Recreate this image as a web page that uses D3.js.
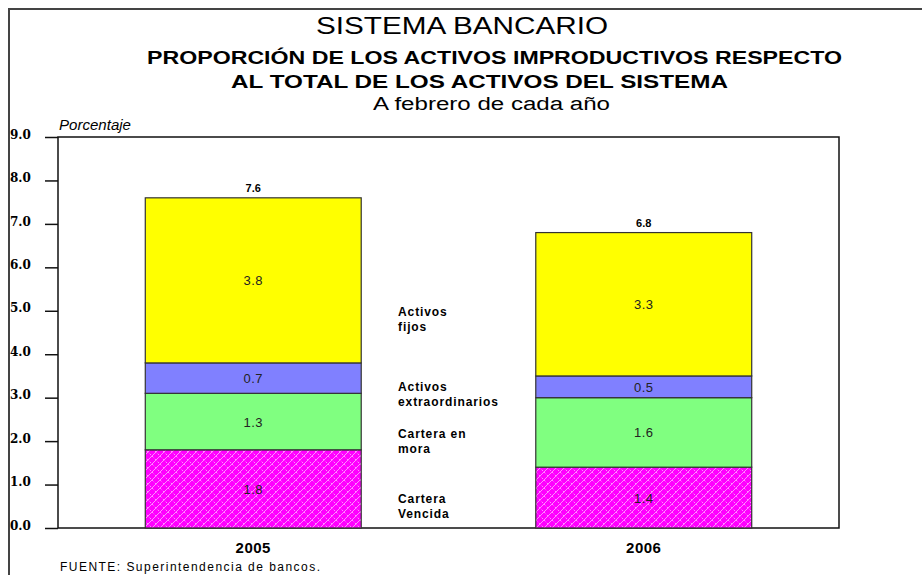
<!DOCTYPE html>
<html>
<head>
<meta charset="utf-8">
<script src="https://cdn.jsdelivr.net/npm/d3@7"></script>
<style>
  html, body { margin: 0; padding: 0; background: #fff; }
  svg { display: block; font-family: Arial, "Liberation Sans", sans-serif; }
</style>
</head>
<body>
<svg id="chart" width="922" height="575"></svg>
<script>
// Years shown on the x axis
const years = ["2005", "2006"];
// Stacked components, bottom to top (percent of total assets)
const carteraVencida = [1.8, 1.4];
const carteraMora = [1.3, 1.6];
const activosExtra = [0.7, 0.5];
const activosFijos = [3.8, 3.3];
// Totals printed above each bar
const totals = [7.6, 6.8];
// Y axis ticks
const yTicks = [0, 1, 2, 3, 4, 5, 6, 7, 8, 9];

const series = [
  { key: "Cartera Vencida", values: carteraVencida, fill: "url(#hatch)", label: ["Cartera", "Vencida"] },
  { key: "Cartera en mora", values: carteraMora, fill: "#80ff80", label: ["Cartera en", "mora"] },
  { key: "Activos extraordinarios", values: activosExtra, fill: "#8080ff", label: ["Activos", "extraordinarios"] },
  { key: "Activos fijos", values: activosFijos, fill: "#ffff00", label: ["Activos", "fijos"] }
];

const svg = d3.select("#chart");
const W = 922, H = 575;
const plot = { left: 58, right: 839, top: 137, bottom: 528 };

// Crosshatch fill for the bottom segment
const defs = svg.append("defs");
const pat = defs.append("pattern")
  .attr("id", "hatch").attr("patternUnits", "userSpaceOnUse")
  .attr("width", 8).attr("height", 8);
pat.append("rect").attr("width", 8).attr("height", 8).attr("fill", "#ff00ff");
pat.append("path").attr("d", "M0,8 L8,0 M-2,2 L2,-2 M6,10 L10,6")
  .attr("stroke", "#ff8cff").attr("stroke-width", 1);
pat.append("path").attr("d", "M0,0 L8,8 M-2,6 L2,10 M6,-2 L10,2")
  .attr("stroke", "#ff8cff").attr("stroke-width", 1).attr("stroke-dasharray", "2,2");

// Outer frame (left and top edges)
svg.append("path")
  .attr("d", `M9,${H} L9,9 L${W},9`)
  .attr("fill", "none").attr("stroke", "#444").attr("stroke-width", 2);

// Titles: [text, x-start, width, baseline, size, weight]
const titles = [
  ["SISTEMA BANCARIO", 316, 292, 34, 24, "normal"],
  ["PROPORCIÓN DE LOS ACTIVOS IMPRODUCTIVOS RESPECTO", 147, 695, 64, 18, "bold"],
  ["AL TOTAL DE LOS ACTIVOS DEL SISTEMA", 231, 497, 88, 18, "bold"],
  ["A febrero de cada año", 373, 237, 110, 18, "normal"]
];
titles.forEach(([txt, x0, w, yb, fs, fw]) => {
  svg.append("text").attr("x", x0).attr("y", yb)
    .attr("font-size", fs).attr("font-weight", fw).attr("fill", "#000")
    .attr("textLength", w).attr("lengthAdjust", "spacingAndGlyphs")
    .text(txt);
});

// Scales
const x = d3.scaleBand().domain(years).range([plot.left, plot.right]).paddingInner(0.447).paddingOuter(0.2235);
const y = d3.scaleLinear().domain([0, 9]).range([plot.bottom, plot.top]);

// Plot frame
svg.append("rect")
  .attr("x", plot.left).attr("y", plot.top)
  .attr("width", plot.right - plot.left).attr("height", plot.bottom - plot.top)
  .attr("fill", "none").attr("stroke", "#111").attr("stroke-width", 1.5);

// Y axis ticks and labels
const yAxis = svg.append("g").attr("transform", `translate(${plot.left},0)`)
  .call(d3.axisLeft(y).tickValues(yTicks).tickSize(13).tickFormat(d3.format(".1f")));
yAxis.select(".domain").remove();
yAxis.selectAll(".tick line").attr("stroke", "#111").attr("stroke-width", 1.5);
yAxis.selectAll(".tick text")
  .attr("x", -48).attr("text-anchor", "start").attr("dy", "0.1em")
  .attr("font-family", "'DejaVu Serif', 'Liberation Serif', serif")
  .attr("font-size", 12).attr("font-weight", "bold").attr("fill", "#000");

svg.append("text").attr("x", 59).attr("y", 130)
  .attr("font-size", 14).attr("font-style", "italic").attr("fill", "#000")
  .attr("textLength", 72).attr("lengthAdjust", "spacingAndGlyphs").text("Porcentaje");

// Stack the series
const rows = years.map((yr, i) => {
  const r = { year: yr };
  series.forEach(s => { r[s.key] = s.values[i]; });
  return r;
});
const stacked = d3.stack().keys(series.map(s => s.key))(rows);

stacked.forEach((layer, li) => {
  const s = series[li];
  const g = svg.append("g");
  g.selectAll("rect").data(layer).join("rect")
    .attr("x", d => x(d.data.year))
    .attr("y", d => y(d[1]))
    .attr("width", x.bandwidth())
    .attr("height", d => y(d[0]) - y(d[1]))
    .attr("fill", s.fill)
    .attr("stroke", "#333").attr("stroke-width", 1.2);
  g.selectAll("text").data(layer).join("text")
    .attr("x", d => x(d.data.year) + x.bandwidth() / 2)
    .attr("y", d => (y(d[0]) + y(d[1])) / 2 + 5)
    .attr("text-anchor", "middle").attr("font-size", 13).attr("fill", "#222")
    .attr("letter-spacing", 0.5)
    .text(d => d3.format(".1f")(d[1] - d[0]));
});

// Totals above bars
svg.append("g").selectAll("text").data(years).join("text")
  .attr("x", d => x(d) + x.bandwidth() / 2)
  .attr("y", (d, i) => y(totals[i]) - 6)
  .attr("text-anchor", "middle").attr("font-size", 11).attr("font-weight", "bold")
  .attr("fill", "#000").text((d, i) => d3.format(".1f")(totals[i]));

// Series labels between the bars
const labelY = [503, 438, 391, 316];
series.forEach((s, i) => {
  const t = svg.append("text").attr("x", 398).attr("y", labelY[i])
    .attr("font-size", 12).attr("font-weight", "bold").attr("fill", "#000")
    .attr("letter-spacing", 0.9);
  s.label.forEach((line, k) => {
    t.append("tspan").attr("x", 398).attr("dy", k === 0 ? 0 : 15).text(line);
  });
});

// X axis labels
const xAxis = svg.append("g").attr("transform", `translate(0,${plot.bottom})`)
  .call(d3.axisBottom(x).tickSize(0).tickPadding(14));
xAxis.select(".domain").remove();
xAxis.selectAll(".tick text").attr("font-size", 15).attr("font-weight", "bold").attr("fill", "#000")
  .attr("letter-spacing", 0.5);

// Source note
svg.append("text").attr("x", 60).attr("y", 571)
  .attr("font-size", 12).attr("fill", "#000")
  .attr("textLength", 260).attr("lengthAdjust", "spacing")
  .text("FUENTE: Superintendencia de bancos.");
</script>
</body>
</html>
